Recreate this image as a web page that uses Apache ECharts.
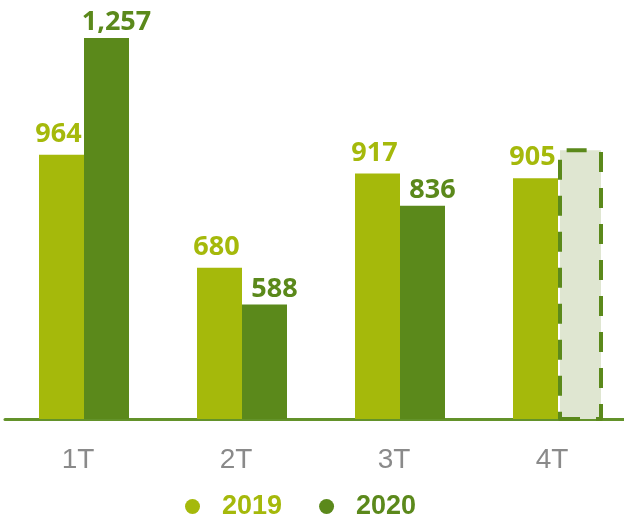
<!DOCTYPE html>
<html>
<head>
<meta charset="utf-8">
<script src="https://cdn.jsdelivr.net/npm/echarts@6/dist/echarts.min.js"></script>
<style>
	html, body { margin: 0; padding: 0; background: #fff; }
	#chart { width: 624px; height: 514px; }
</style>
</head>
<body>
<div id="chart"></div>
<script>
var quarters = ['1T', '2T', '3T', '4T'];
var seriesNames = ['2019', '2020'];
var values2019 = [964, 680, 917, 905];
var values2020 = [1257, 588, 836, null];
// 4T 2020 is not closed yet: drawn as a dashed placeholder, no label
var pending2020 = 980;

var lightGreen = '#a5b90b';
var darkGreen = '#5b891b';

var data2020 = values2020.map(function (v, i) {
	if (v !== null) return v;
	return {
		value: pending2020,
		itemStyle: {
			color: '#dfe6d1',
			borderColor: darkGreen,
			borderWidth: 4,
			borderType: [20, 16],
			borderJoin: 'round'
		},
		label: { show: false }
	};
});

var myChart = echarts.init(document.getElementById('chart'));
var option = {
	animation: false,
	grid: {
		left: 5,
		right: -13,
		top: 21,
		bottom: 95,
		outerBoundsMode: 'none',
		containLabel: false
	},
	legend: {
		left: 180,
		top: 488,
		icon: 'circle',
		itemWidth: 15,
		itemHeight: 15,
		itemGap: 37,
		data: [
			{ name: seriesNames[0], textStyle: { color: lightGreen } },
			{ name: seriesNames[1], textStyle: { color: darkGreen } }
		],
		textStyle: {
			fontFamily: 'Liberation Sans',
			fontWeight: 'bold',
			fontSize: 27,
			padding: [0, 0, 0, 17]
		}
	},
	xAxis: {
		type: 'category',
		data: quarters,
		axisLine: {
			lineStyle: { color: '#63922a', width: 3 }
		},
		axisTick: { show: false },
		axisLabel: {
			color: '#8a8a8a',
			fontFamily: 'Liberation Sans',
			fontSize: 28,
			margin: 27,
			padding: [0, 12, 0, 0]
		}
	},
	yAxis: {
		type: 'value',
		min: 300,
		max: 1300,
		show: false,
		splitLine: { show: false }
	},
	series: [
		{
			name: seriesNames[0],
			type: 'bar',
			barWidth: 45,
			barGap: '0%',
			itemStyle: { color: lightGreen },
			label: {
				show: true,
				position: 'top',
				distance: 7,
				offset: [-3, 0],
				color: lightGreen,
				fontFamily: 'Open Sans',
				fontWeight: 'bold',
				fontSize: 27
			},
			data: values2019
		},
		{
			name: seriesNames[1],
			type: 'bar',
			barWidth: 45,
			barGap: '0%',
			itemStyle: { color: darkGreen },
			label: {
				show: true,
				position: 'top',
				distance: 2,
				offset: [10, 0],
				color: darkGreen,
				fontFamily: 'Open Sans',
				fontWeight: 'bold',
				fontSize: 27,
				formatter: function (p) {
					return echarts.format.addCommas(p.value);
				}
			},
			data: data2020
		}
	]
};
myChart.setOption(option);
</script>
</body>
</html>
